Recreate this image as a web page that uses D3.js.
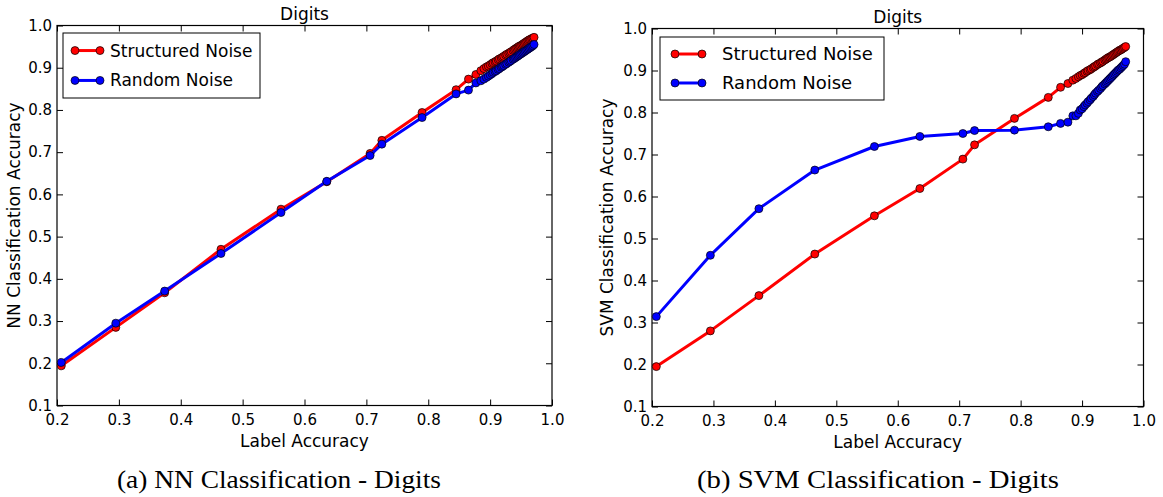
<!DOCTYPE html>
<html><head><meta charset="utf-8">
<script src="https://cdn.jsdelivr.net/npm/d3@7"></script>
<style>body{margin:0;background:#fff}svg{display:block}</style>
</head><body>
<svg id="c" width="1163" height="497"></svg>
<script>
// Shared label accuracy (x) values
const labelAcc = [0.207,0.295,0.374,0.465,0.562,0.636,0.706,0.725,0.790,0.845,0.865,0.877,0.885,
 0.890,0.894,0.897,0.900,0.903,0.905,0.908,0.910,0.913,0.915,0.918,0.920,0.922,0.925,0.927,0.930,
 0.932,0.934,0.937,0.939,0.941,0.943,0.945,0.947,0.949,0.951,0.953,0.955,0.957,0.959,0.961,0.963,
 0.965,0.967,0.969,0.971];
// NN panel
const nnStructured = [0.194,0.285,0.367,0.470,0.565,0.630,0.697,0.728,0.794,0.848,0.873,0.884,0.893,
 0.898,0.902,0.904,0.907,0.910,0.912,0.914,0.916,0.919,0.921,0.923,0.925,0.927,0.930,0.932,0.934,
 0.936,0.938,0.941,0.943,0.945,0.947,0.949,0.951,0.952,0.954,0.956,0.958,0.960,0.962,0.964,0.966,
 0.967,0.969,0.970,0.972];
const nnRandom = [0.202,0.295,0.371,0.460,0.557,0.631,0.692,0.719,0.782,0.838,0.847,0.864,0.869,
 0.873,0.877,0.880,0.883,0.886,0.889,0.891,0.893,0.896,0.898,0.901,0.903,0.905,0.908,0.910,0.913,
 0.915,0.917,0.920,0.922,0.924,0.926,0.928,0.930,0.932,0.934,0.936,0.938,0.940,0.942,0.944,0.946,
 0.948,0.950,0.952,0.955];
// SVM panel
const svmStructured = [0.195,0.280,0.364,0.463,0.554,0.619,0.689,0.723,0.786,0.836,0.860,0.869,0.877,
 0.881,0.885,0.888,0.890,0.893,0.895,0.898,0.900,0.902,0.904,0.907,0.909,0.911,0.914,0.916,0.918,
 0.920,0.922,0.925,0.927,0.929,0.931,0.932,0.934,0.936,0.938,0.940,0.942,0.944,0.946,0.948,0.949,
 0.951,0.953,0.955,0.957];
const svmRandom = [0.314,0.460,0.571,0.663,0.719,0.743,0.750,0.757,0.758,0.766,0.774,0.777,0.792,
 0.792,0.798,0.806,0.809,0.814,0.818,0.822,0.826,0.830,0.834,0.838,0.842,0.846,0.850,0.853,0.857,
 0.861,0.864,0.868,0.871,0.874,0.877,0.880,0.883,0.886,0.889,0.892,0.895,0.898,0.901,0.903,0.906,
 0.909,0.912,0.915,0.921];

const xTicks = [0.2,0.3,0.4,0.5,0.6,0.7,0.8,0.9,1.0];
const yTicks = [0.1,0.2,0.3,0.4,0.5,0.6,0.7,0.8,0.9,1.0];
const seriesNames = ["Structured Noise","Random Noise"];
const seriesColors = ["#ff0000","#0000ff"];

const svg = d3.select("#c");
const FONT = "'DejaVu Sans', sans-serif";

function panel(o){
  const x = d3.scaleLinear().domain([0.2,1.0]).range([o.x0,o.x1]);
  const y = d3.scaleLinear().domain([0.1,1.0]).range([o.y1,o.y0]);
  const g = svg.append("g");
  const fmt = d3.format(".1f");
  const bottom = g.append("g").attr("transform",`translate(0,${o.y1})`)
    .call(d3.axisBottom(x).tickValues(xTicks).tickFormat(fmt).tickSizeInner(-6).tickSizeOuter(0).tickPadding(9));
  const top = g.append("g").attr("transform",`translate(0,${o.y0})`)
    .call(d3.axisTop(x).tickValues(xTicks).tickFormat("").tickSizeInner(-6).tickSizeOuter(0));
  const left = g.append("g").attr("transform",`translate(${o.x0},0)`)
    .call(d3.axisLeft(y).tickValues(yTicks).tickFormat(fmt).tickSizeInner(-6).tickSizeOuter(0).tickPadding(5));
  const right = g.append("g").attr("transform",`translate(${o.x1},0)`)
    .call(d3.axisRight(y).tickValues(yTicks).tickFormat("").tickSizeInner(-6).tickSizeOuter(0));
  [bottom,top,left,right].forEach(a=>{
    a.select(".domain").remove();
    a.selectAll("line").attr("stroke","#000").attr("stroke-width",1);
    a.selectAll("text").attr("font-family",FONT).attr("font-size",o.tick).attr("fill","#000");
  });
  bottom.selectAll("text").attr("dy","0.71em");
  g.append("rect").attr("x",o.x0).attr("y",o.y0).attr("width",o.x1-o.x0).attr("height",o.y1-o.y0)
    .attr("fill","none").attr("stroke","#000").attr("stroke-width",1.2);
  const line = d3.line().x(d=>x(d[0])).y(d=>y(d[1]));
  o.series.forEach((s,i)=>{
    const pts = labelAcc.map((v,k)=>[v,s[k]]);
    const sg = g.append("g");
    sg.append("path").datum(pts).attr("d",line).attr("fill","none")
      .attr("stroke",seriesColors[i]).attr("stroke-width",3).attr("stroke-linejoin","round");
    sg.selectAll("circle").data(pts).join("circle").attr("cx",d=>x(d[0])).attr("cy",d=>y(d[1]))
      .attr("r",4).attr("fill",seriesColors[i]).attr("stroke","#000").attr("stroke-width",0.7);
  });
  g.append("text").attr("x",(o.x0+o.x1)/2).attr("y",o.y0-6).attr("text-anchor","middle")
    .attr("font-family",FONT).attr("font-size",o.lab).text("Digits");
  g.append("text").attr("x",(o.x0+o.x1)/2).attr("y",o.y1+41).attr("text-anchor","middle")
    .attr("font-family",FONT).attr("font-size",o.lab).text("Label Accuracy");
  g.append("text").attr("transform",`translate(${o.ylx},${(o.y0+o.y1)/2}) rotate(-90)`)
    .attr("text-anchor","middle").attr("font-family",FONT).attr("font-size",o.lab).text(o.ylabel);
  const L = o.leg;
  g.append("rect").attr("x",L.x).attr("y",L.y).attr("width",L.w).attr("height",L.h)
    .attr("fill","#fff").attr("stroke","#000").attr("stroke-width",1);
  seriesNames.forEach((n,i)=>{
    const yy = L.y + L.h*(0.27+0.46*i);
    g.append("line").attr("x1",L.x+L.m0).attr("x2",L.x+L.m1).attr("y1",yy).attr("y2",yy)
      .attr("stroke",seriesColors[i]).attr("stroke-width",3);
    [L.x+L.m0,L.x+L.m1].forEach(cx=>g.append("circle").attr("cx",cx).attr("cy",yy).attr("r",4)
      .attr("fill",seriesColors[i]).attr("stroke","#000").attr("stroke-width",0.7));
    g.append("text").attr("x",L.x+L.tx).attr("y",yy).attr("dy","0.35em")
      .attr("font-family",FONT).attr("font-size",L.fs).text(n);
  });
  g.append("text").attr("x",o.capx).attr("y",488).attr("text-anchor","middle")
    .attr("font-family","'Liberation Serif', serif").attr("font-size",25.5)
    .attr("textLength",o.capw).attr("lengthAdjust","spacingAndGlyphs").text(o.caption);
}

panel({x0:57,x1:552,y0:25.5,y1:405.5,tick:15,lab:17,ylx:20,ylabel:"NN Classification Accuracy",
  series:[nnStructured,nnRandom],
  leg:{x:63,y:33,w:197,h:65,m0:12,m1:37,tx:47,fs:17},
  capx:279,capw:324,caption:"(a) NN Classification - Digits"});
panel({x0:652,x1:1143.5,y0:28.5,y1:406.5,tick:15,lab:17,ylx:613,ylabel:"SVM Classification Accuracy",
  series:[svmStructured,svmRandom],
  leg:{x:660,y:37,w:224,h:63,m0:15,m1:42,tx:62,fs:18},
  capx:878,capw:362,caption:"(b) SVM Classification - Digits"});
</script>
</body></html>
